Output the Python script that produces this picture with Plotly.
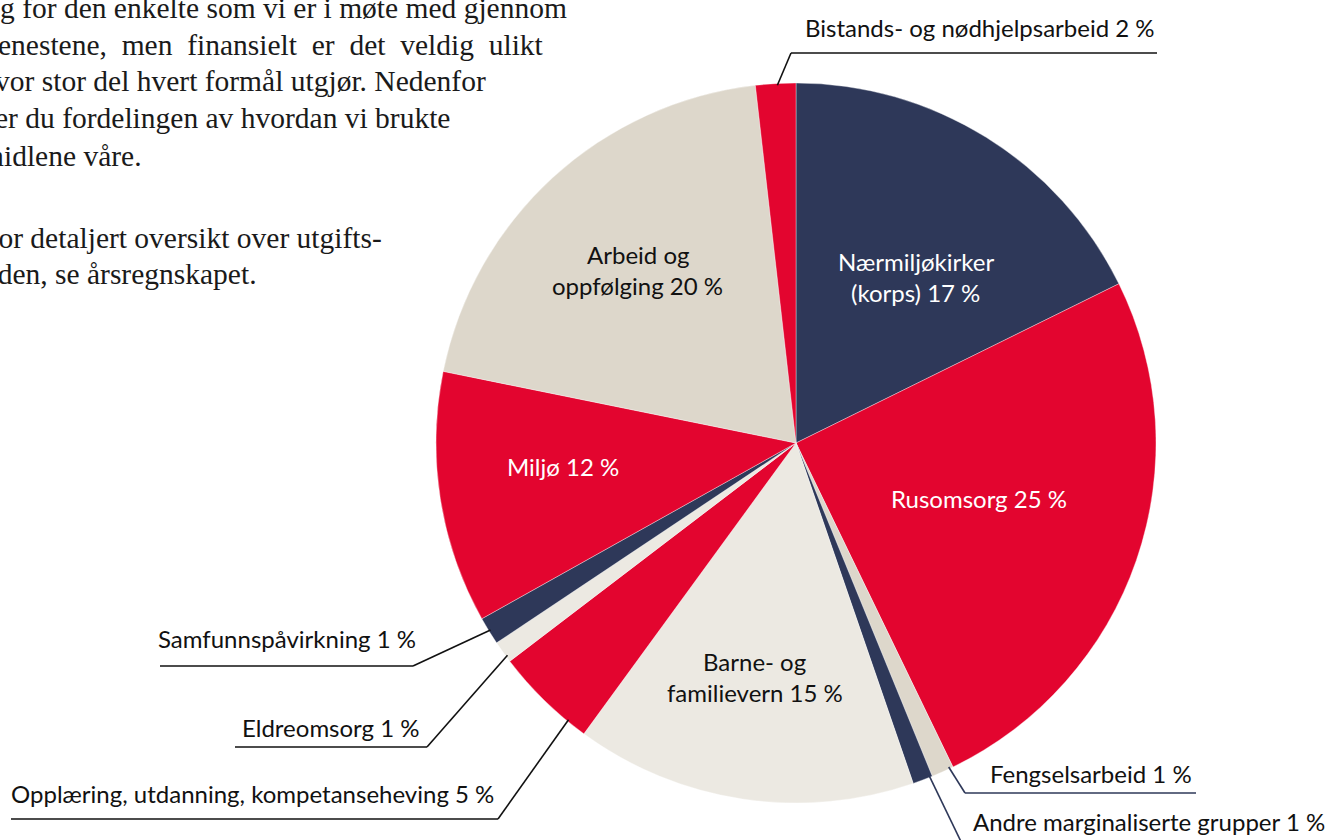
import math
import plotly.graph_objects as go

# ---------------- data ----------------
categories = [
    "Nærmiljøkirker (korps)", "Rusomsorg", "Fengselsarbeid", "Andre marginaliserte grupper",
    "Barne- og familievern", "Opplæring, utdanning, kompetanseheving", "Eldreomsorg",
    "Samfunnspåvirkning", "Miljø", "Arbeid og oppfølging", "Bistands- og nødhjelpsarbeid",
]
shares = [17.7, 25.1, 1.0, 0.9, 15.3, 4.6, 1.0, 1.25, 11.3, 20.0, 1.8]   # slice sizes
pct_labels = [17, 25, 1, 1, 15, 5, 1, 1, 12, 20, 2]                       # printed percentages

body_lines = [
    "g for den enkelte som vi er i møte med gjennom",
    "enestene,\u00a0 men\u00a0 finansielt\u00a0 er\u00a0 det\u00a0 veldig\u00a0 ulikt",
    "vor stor del hvert formål utgjør. Nedenfor",
    "er du fordelingen av hvordan vi brukte",
    "midlene våre.",
    "For detaljert oversikt over utgifts-",
    "siden, se årsregnskapet.",
]

# ---------------- style ----------------
NAVY, RED, BEIGE, LIGHT = "#2e3859", "#e3052f", "#ddd7cb", "#ece9e2"
colors = [NAVY, RED, BEIGE, NAVY, LIGHT, RED, LIGHT, NAVY, RED, BEIGE, RED]
W, H = 1341, 840
CX, CY, R = 796, 443, 360
LABEL_FONT = "Lato"
LSIZE = 24

fig = go.Figure(go.Pie(
    labels=categories, values=shares, sort=False, direction="clockwise", rotation=0,
    marker=dict(colors=colors, line=dict(color="rgba(255,255,255,0.6)", width=0.6)),
    textinfo="none", hoverinfo="label+percent", showlegend=False,
    domain=dict(x=[(CX - R) / W, (CX + R) / W], y=[(H - CY - R) / H, (H - CY + R) / H]),
))

total = sum(shares)
bounds = []
acc = 0
for v in shares:
    a0 = acc / total * 360
    acc += v
    bounds.append((a0, acc / total * 360))


def pt(angle_deg, rfrac=1.0):
    a = math.radians(angle_deg)
    return CX + R * rfrac * math.sin(a), CY - R * rfrac * math.cos(a)


def px(x):
    return x / W


def py(y):
    return 1 - y / H


annotations = []
shapes = []

# inside labels: (index, lines, color, angle offset from mid, radial fraction)
inside = [
    (0, ["Nærmiljøkirker", f"(korps) {pct_labels[0]} %"], "white", 3.9, 0.57),
    (1, [f"Rusomsorg {pct_labels[1]} %"], "white", -2.2, 0.53),
    (4, ["Barne- og", f"familievern {pct_labels[4]} %"], "#111111", 1.5, 0.66),
    (8, [f"Miljø {pct_labels[8]} %"], "white", 3.0, 0.65),
    (9, ["Arbeid og", f"oppfølging {pct_labels[9]} %"], "#111111", 0.0, 0.65),
]
LINE_GAP = 31
for idx, lines, col, off, rf in inside:
    a0, a1 = bounds[idx]
    x, y = pt((a0 + a1) / 2 + off, rf)
    n = len(lines)
    for k, t in enumerate(lines):
        yy = y + (k - (n - 1) / 2) * LINE_GAP
        annotations.append(dict(x=px(x), y=py(yy), xref="paper", yref="paper", text=t,
                                showarrow=False, xanchor="center", yanchor="middle",
                                font=dict(family=LABEL_FONT, size=LSIZE, color=col)))

# outside labels with leader lines:
# (index, text, anchor fraction in slice, elbow(x,y), line end x, text x, text y, text anchor, line color)
outside = [
    (10, f"Bistands- og nødhjelpsarbeid {pct_labels[10]} %", 0.54, (791, 53), 1157, 803, 28, "left", "#111111"),
    (7, f"Samfunnspåvirkning {pct_labels[7]} %", 0.5, (413, 666), 160, 418, 638, "right", "#111111"),
    (6, f"Eldreomsorg {pct_labels[6]} %", 0.27, (427, 747), 235, 422, 727, "right", "#111111"),
    (5, f"Opplæring, utdanning, kompetanseheving {pct_labels[5]} %", 0.2, (498, 819), 11, 496, 793, "right", "#111111"),
    (2, f"Fengselsarbeid {pct_labels[2]} %", 0.17, (965, 793), 1196, 988, 773, "left", NAVY),
    (3, f"Andre marginaliserte grupper {pct_labels[3]} %", 0.13, (966, 852), 1300, 971, 821, "left", NAVY),
]
for idx, text, frac, elbow, xend, tx, ty, anc, lc in outside:
    a0, a1 = bounds[idx]
    sx, sy = pt(a0 + frac * (a1 - a0), 0.995)
    shapes.append(dict(type="line", xref="paper", yref="paper", x0=px(sx), y0=py(sy),
                       x1=px(elbow[0]), y1=py(elbow[1]), line=dict(color=lc, width=1.6)))
    shapes.append(dict(type="line", xref="paper", yref="paper", x0=px(elbow[0]), y0=py(elbow[1]),
                       x1=px(xend), y1=py(elbow[1]), line=dict(color=lc, width=1.6)))
    annotations.append(dict(x=px(tx), y=py(ty), xref="paper", yref="paper", text=text,
                            showarrow=False, xanchor=anc, yanchor="middle",
                            font=dict(family=LABEL_FONT, size=LSIZE, color="#111111")))

# body text (cut off at the left / top edge of the page)
body_y = [8, 45, 81, 118, 156, 238, 274]
body_x = [-2, -4, -7, -7, -21, -20, -24]
for t, x, y in zip(body_lines, body_x, body_y):
    annotations.append(dict(x=px(x), y=py(y), xref="paper", yref="paper", text=t,
                            showarrow=False, xanchor="left", yanchor="middle",
                            font=dict(family="Liberation Serif", size=29.5, color="#1a1a1a")))

fig.update_layout(
    width=W, height=H, margin=dict(l=0, r=0, t=0, b=0),
    paper_bgcolor="white", plot_bgcolor="white",
    annotations=annotations, shapes=shapes,
)
fig.write_html("out.html")
